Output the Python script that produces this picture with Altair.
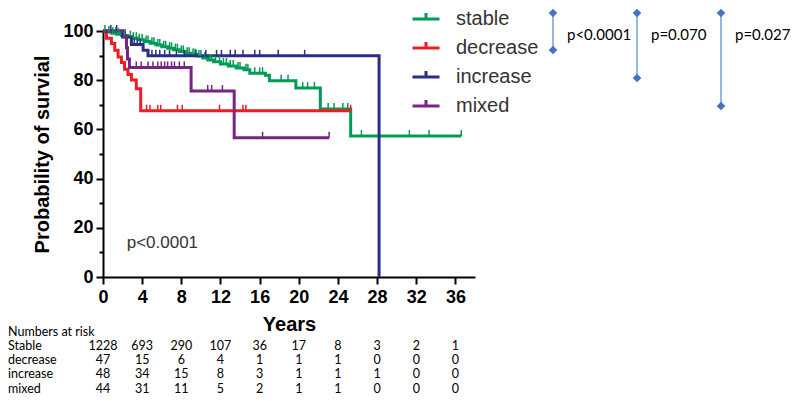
import altair as alt
import pandas as pd

# ---------------- data ----------------
groups = ["stable", "decrease", "increase", "mixed"]
colors = ["#009B55", "#EE1D23", "#2B2E86", "#772583"]

stable_t = [0, 0.4, 0.9, 1.4, 1.9, 2.5, 3.0, 3.6, 4.2, 4.8, 5.4, 6.0, 6.6, 7.2, 7.8, 8.4, 9.0,
            9.6, 10.2, 10.7, 11.3, 12.0, 12.8, 13.6, 14.4, 15.0, 16.6, 17.0, 19.7, 22.2, 25.3]
stable_s = [100, 99.6, 99.1, 98.7, 98.2, 97.7, 97.1, 96.4, 95.7, 95.0, 94.3, 93.6, 93.0, 92.4,
            91.7, 91.0, 90.4, 89.8, 89.0, 88.2, 87.5, 86.6, 85.8, 85.0, 84.2, 82.8, 82.0, 79.8,
            76.8, 68.3, 57.3]
stable_end = 36.6
stable_cens = [0.2, 0.6, 1.0, 1.3, 1.6, 2.2, 2.8, 3.1, 3.4, 3.7, 4.0, 4.4, 4.6, 5.0, 5.2, 5.6,
               5.8, 6.2, 6.4, 6.8, 7.0, 7.4, 7.6, 8.0, 8.2, 8.6, 8.8, 9.2, 9.4, 9.8, 10.0, 10.4,
               10.9, 11.1, 11.5, 11.9, 12.3, 12.6, 13.0, 13.3, 13.8, 14.0, 14.6, 14.8, 15.5, 16.0,
               16.3, 18.2, 18.9, 20.4, 20.9, 21.6, 23.0, 23.6, 24.5, 25.0, 26.4, 31.3, 33.3, 36.6]

decrease_t = [0, 0.35, 0.86, 1.2, 1.54, 1.88, 2.2, 2.55, 2.9, 3.4, 3.85]
decrease_s = [100, 97.1, 94.9, 92.2, 89.4, 87.2, 84.5, 82.3, 80.1, 76.5, 67.6]
decrease_end = 25.3
decrease_cens = [4.45, 4.8, 5.6, 5.9, 7.6, 8.1, 11.9, 14.3, 14.6, 25.3]

increase_t = [0, 2.0, 2.9, 4.1, 4.6, 28.2]
increase_s = [100, 97.6, 94.5, 92.2, 89.9, 0]
increase_end = 28.2
increase_cens = [0.8, 1.4, 3.2, 3.5, 3.8, 5.0, 5.4, 5.8, 6.3, 6.8, 7.5, 8.3, 9.5, 10.5, 11.6,
                 12.1, 13.0, 13.5, 14.3, 15.5, 16.0, 17.9, 20.6]

mixed_t = [0, 2.2, 2.4, 2.5, 2.7, 9.0, 13.4]
mixed_s = [100, 97.7, 93.2, 88.6, 85.2, 75.6, 56.6]
mixed_end = 23.1
mixed_cens = [3.4, 3.9, 4.6, 5.1, 5.6, 5.95, 6.3, 6.6, 7.0, 7.3, 7.8, 8.3, 10.7, 11.1, 12.2,
              16.3, 23.1]

risk_years = [0, 4, 8, 12, 16, 20, 24, 28, 32, 36]
risk_labels = ["Stable", "decrease", "increase", "mixed"]
risk_stable = [1228, 693, 290, 107, 36, 17, 8, 3, 2, 1]
risk_decrease = [47, 15, 6, 4, 1, 1, 1, 0, 0, 0]
risk_increase = [48, 34, 15, 8, 3, 1, 1, 1, 0, 0]
risk_mixed = [44, 31, 11, 5, 2, 1, 1, 0, 0, 0]

overall_p = "p<0.0001"
pair_p = ["p<0.0001", "p=0.070", "p=0.027"]

# ---------------- tables ----------------
curves = {
    "stable": (stable_t, stable_s, stable_end, stable_cens),
    "decrease": (decrease_t, decrease_s, decrease_end, decrease_cens),
    "increase": (increase_t, increase_s, increase_end, increase_cens),
    "mixed": (mixed_t, mixed_s, mixed_end, mixed_cens),
}

line_rows, cens_rows = [], []
for g, (ts, ss, end, cens) in curves.items():
    pts = list(zip(ts, ss))
    if end > ts[-1]:
        pts.append((end, ss[-1]))
    for i, (t, s) in enumerate(pts):
        line_rows.append({"group": g, "t": t, "s": s, "i": i})
    for c in cens:
        sv = [s for t, s in zip(ts, ss) if t <= c][-1]
        cens_rows.append({"group": g, "t": c, "s": sv})
line_df = pd.DataFrame(line_rows)
cens_df = pd.DataFrame(cens_rows)

# ---------------- layout constants (px, relative to plot origin) ----------------
W, H = 372, 246
LEFT, TOP = 95, 23
FONT = "Liberation Sans"

xscale = alt.Scale(domain=[0, 38], nice=False, zero=False)
yscale = alt.Scale(domain=[0, 100], nice=False)
xaxis = alt.Axis(values=risk_years, title="Years", labelFlush=False, labelOverlap=False,
                 tickSize=7, labelPadding=4, titlePadding=8, orient="bottom")
yaxis = alt.Axis(values=[0, 20, 40, 60, 80, 100], title="Probability of survial",
                 tickSize=7, labelPadding=3, titlePadding=10, orient="left")


def X(field="t"):
    return alt.X(f"{field}:Q", scale=xscale, axis=xaxis, title="Years")


legend = alt.Legend(title=None, orient="none", legendX=308, legendY=-27,
                    symbolType="M-1,0H1M0,0V-0.45", symbolSize=729, symbolStrokeWidth=3,
                    symbolFillColor="transparent", symbolOpacity=1,
                    labelFont=FONT, labelFontSize=20, labelColor="#333333", labelOffset=15,
                    rowPadding=4)
color = alt.Color("group:N", scale=alt.Scale(domain=groups, range=colors), legend=legend)

lines = alt.Chart(line_df).mark_line(interpolate="step-after", strokeWidth=3).encode(
    x=X(), y=alt.Y("s:Q", scale=yscale, axis=yaxis, title="Probability of survial"),
    color=color, order="i:Q")

ticks = alt.Chart(cens_df).mark_tick(orient="vertical", size=6, thickness=1.5, yOffset=-3,
                                     opacity=1).encode(
    x=X(), y=alt.Y("s:Q", scale=yscale, axis=None), color=color)

minor = alt.Chart(line_df).mark_line(opacity=0).encode(
    x=X(), y=alt.Y("s:Q", scale=yscale,
                   axis=alt.Axis(values=[10, 30, 50, 70, 90], labels=False, title=None,
                                 domain=False, tickSize=4, orient="left")))

ptext_df = pd.DataFrame({"t": [2.42], "s": [13.7], "label": [overall_p]})
ptext = alt.Chart(ptext_df).mark_text(align="left", baseline="middle", font=FONT,
                                      fontSize=17, color="#333333").encode(
    x=X(), y=alt.Y("s:Q", scale=yscale, axis=None), text="label:N")

layers = [lines, minor, ticks, ptext]

# p-value brackets (stable vs each other group)
one = pd.DataFrame({"k": [0]})
for i, lab in enumerate(pair_p):
    bx = 450 + i * 84
    ytop = -18
    ybot = -9 + 28 * (i + 1)
    layers.append(alt.Chart(one).mark_rule(color="#6FA0D8", strokeWidth=1.5).encode(
        x=alt.value(bx), y=alt.value(ytop), y2=alt.value(ybot)))
    for yy in (ytop, ybot):
        layers.append(alt.Chart(one).mark_point(shape="diamond", filled=True, size=75,
                                                color="#4472C4", opacity=1).encode(
            x=alt.value(bx), y=alt.value(yy)))
    layers.append(alt.Chart(pd.DataFrame({"label": [lab]})).mark_text(
        align="left", baseline="middle", font="Lato", fontSize=15, color="black").encode(
        x=alt.value(bx + 14), y=alt.value(4), text="label:N"))

# numbers at risk table
RISK_FONT = "Lato"
RISK_SIZE = 12.5
layers.append(alt.Chart(pd.DataFrame({"label": ["Numbers at risk"]})).mark_text(
    align="left", baseline="middle", font=RISK_FONT, fontSize=RISK_SIZE, color="black").encode(
    x=alt.value(-95), y=alt.value(300.5), text="label:N"))
for r, (lab, vals) in enumerate(zip(risk_labels,
                                    [risk_stable, risk_decrease, risk_increase, risk_mixed])):
    yy = 315 + r * 14.2
    layers.append(alt.Chart(pd.DataFrame({"label": [lab]})).mark_text(
        align="left", baseline="middle", font=RISK_FONT, fontSize=RISK_SIZE, color="black").encode(
        x=alt.value(-95), y=alt.value(yy), text="label:N"))
    df = pd.DataFrame({"year": risk_years, "n": vals})
    layers.append(alt.Chart(df).mark_text(
        align="center", baseline="middle", font=RISK_FONT, fontSize=RISK_SIZE, color="black").encode(
        x=X("year"), y=alt.value(yy), text="n:Q"))

chart = alt.layer(*layers).resolve_axis(y="independent").properties(
    width=W, height=H,
    autosize=alt.AutoSizeParams(type="none"),
    padding={"left": LEFT, "top": TOP, "right": 784 - LEFT - W, "bottom": 388 - TOP - H},
).configure_view(stroke=None).configure_axis(
    grid=False, domainColor="black", domainWidth=2, tickColor="black", tickWidth=2,
    labelFont=FONT, labelFontSize=18, labelFontWeight="bold", labelColor="black",
    titleFont=FONT, titleFontSize=20, titleFontWeight="bold", titleColor="black",
)

chart.save("out.html", embed_options={"renderer": "svg", "actions": False})
